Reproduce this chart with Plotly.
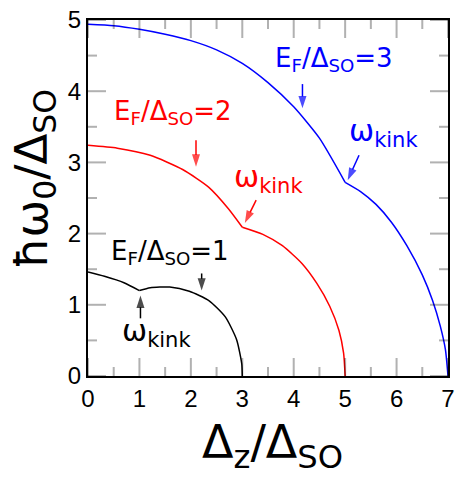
import plotly.graph_objects as go

# Mode energy vs Zeeman splitting for three Fermi energies.
# Each curve is split at its kink so the corner stays sharp.
blue_x1 = [0.0, 0.5, 1.0, 1.5, 2.0, 2.5, 3.0, 3.5, 4.0, 4.5, 5.0]
blue_y1 = [4.94, 4.92, 4.87, 4.80, 4.71, 4.58, 4.39, 4.12, 3.78, 3.34, 2.72]
blue_x2 = [5.0, 5.3, 5.6, 5.9, 6.2, 6.5, 6.7, 6.85, 6.95, 7.0]
blue_y2 = [2.72, 2.59, 2.41, 2.16, 1.83, 1.42, 1.06, 0.70, 0.37, 0.0]

red_x1 = [0.0, 0.57, 1.21, 1.84, 2.35, 2.73, 3.0]
red_y1 = [3.24, 3.20, 3.10, 2.90, 2.65, 2.35, 2.09]
red_x2 = [3.0, 3.40, 3.78, 4.16, 4.45, 4.70, 4.88, 4.97, 5.0]
red_y2 = [2.09, 1.99, 1.83, 1.58, 1.30, 0.98, 0.64, 0.32, 0.0]

black_x1 = [0.0, 0.32, 0.70, 1.0]
black_y1 = [1.46, 1.40, 1.31, 1.20]
black_x2 = [1.0, 1.21, 1.59, 1.97, 2.35, 2.67, 2.89, 2.99, 3.0]
black_y2 = [1.20, 1.24, 1.25, 1.19, 1.06, 0.83, 0.51, 0.17, 0.0]

x_ticks = [0, 1, 2, 3, 4, 5, 6, 7]
y_ticks = [0, 1, 2, 3, 4, 5]
x_minor = [v + 0.5 for v in x_ticks[:-1]]
y_minor = [v + 0.5 for v in y_ticks[:-1]]

X_RANGE = [x_ticks[0], x_ticks[-1]]
Y_RANGE = [y_ticks[0], y_ticks[-1]]
MAJOR_LEN, MINOR_LEN = 18, 9

BLUE, RED, BLACK = "#0000ff", "#ff0000", "#000000"
ANN_FONT = "DejaVu Sans"

fig = go.Figure()
for xs, ys, col in [
    (blue_x1, blue_y1, BLUE), (blue_x2, blue_y2, BLUE),
    (red_x1, red_y1, RED), (red_x2, red_y2, RED),
    (black_x1, black_y1, BLACK), (black_x2, black_y2, BLACK),
]:
    fig.add_trace(go.Scatter(x=xs, y=ys, mode="lines",
                             line=dict(color=col, width=1.5, shape="spline", smoothing=0.6),
                             showlegend=False, hoverinfo="skip"))

# pointer arrows: (tail x, tail y, tip x, tip y, colour)
arrows = [
    (4.17, 4.10, 4.17, 3.76, BLUE),
    (5.27, 3.10, 5.05, 2.75, BLUE),
    (2.10, 3.31, 2.10, 2.94, RED),
    (3.27, 2.47, 3.05, 2.15, RED),
    (2.21, 1.44, 2.21, 1.20, BLACK),
    (1.02, 0.81, 1.02, 1.13, BLACK),
]
for tx, ty, hx, hy, col in arrows:
    fig.add_trace(go.Scatter(
        x=[tx, hx], y=[ty, hy], mode="lines+markers",
        line=dict(color=col, width=1.5),
        marker=dict(symbol=["circle", "arrow"], size=[0, 13], color=col,
                    angleref="previous", line=dict(width=0)),
        showlegend=False, hoverinfo="skip"))

# (text, centre x, centre y, colour, size)
labels = [
    ("E<sub>F</sub>/Δ<sub>SO</sub>=3", 4.78, 4.44, BLUE, 26),
    ("ω<sub>kink</sub>", 5.75, 3.42, BLUE, 30),
    ("E<sub>F</sub>/Δ<sub>SO</sub>=2", 1.66, 3.70, RED, 26),
    ("ω<sub>kink</sub>", 3.51, 2.77, RED, 30),
    ("E<sub>F</sub>/Δ<sub>SO</sub>=1", 1.60, 1.74, BLACK, 26),
    ("ω<sub>kink</sub>", 1.33, 0.61, BLACK, 30),
]
annotations = []
for txt, x, y, col, sz in labels:
    annotations.append(dict(text=txt, x=x, y=y, xref="x", yref="y",
                            xanchor="center", yanchor="middle", showarrow=False,
                            font=dict(family=ANN_FONT, size=sz, color=col)))

# axis titles
annotations.append(dict(text="Δ<sub>z</sub>/Δ<sub>SO</sub>", x=0.512, y=-0.196,
                        xref="paper", yref="paper", xanchor="center", yanchor="middle",
                        showarrow=False, font=dict(family=ANN_FONT, size=46, color="black")))
annotations.append(dict(text="ħω<sub>0</sub>/Δ<sub>SO</sub>", x=-0.151, y=0.553,
                        xref="paper", yref="paper", xanchor="center", yanchor="middle",
                        textangle=-90, showarrow=False,
                        font=dict(family=ANN_FONT, size=45, color="black")))

# inward tick marks on all four sides, anchored at the tick values
tick_line = dict(color="black", width=2)
shapes = []
for vals, length in [(x_ticks, MAJOR_LEN), (x_minor, MINOR_LEN)]:
    for v in vals:
        shapes.append(dict(type="line", xref="x", yref="y", x0=v, x1=v,
                           ysizemode="pixel", yanchor=Y_RANGE[0], y0=0, y1=length,
                           line=tick_line))
        shapes.append(dict(type="line", xref="x", yref="y", x0=v, x1=v,
                           ysizemode="pixel", yanchor=Y_RANGE[1], y0=0, y1=-length,
                           line=tick_line))
for vals, length in [(y_ticks, MAJOR_LEN), (y_minor, MINOR_LEN)]:
    for v in vals:
        shapes.append(dict(type="line", xref="x", yref="y", y0=v, y1=v,
                           xsizemode="pixel", xanchor=X_RANGE[0], x0=0, x1=length,
                           line=tick_line))
        shapes.append(dict(type="line", xref="x", yref="y", y0=v, y1=v,
                           xsizemode="pixel", xanchor=X_RANGE[1], x0=0, x1=-length,
                           line=tick_line))

axis_style = dict(showgrid=False, zeroline=False, showline=True, linecolor="black",
                  linewidth=2, mirror=True, ticks="", ticklabeloverflow="allow",
                  tickfont=dict(family="Liberation Sans", size=24, color="black"))

fig.update_layout(
    template="simple_white",
    width=461, height=478, showlegend=False,
    margin=dict(l=88, r=6, t=9, b=102),
    paper_bgcolor="white", plot_bgcolor="white",
    xaxis=dict(range=X_RANGE, tickmode="array", tickvals=x_ticks,
               ticktext=[str(v) for v in x_ticks], **axis_style),
    yaxis=dict(range=Y_RANGE, tickmode="array", tickvals=y_ticks,
               ticktext=[str(v) for v in y_ticks], **axis_style),
    annotations=annotations,
    shapes=shapes,
)

fig.write_html("out.html")
